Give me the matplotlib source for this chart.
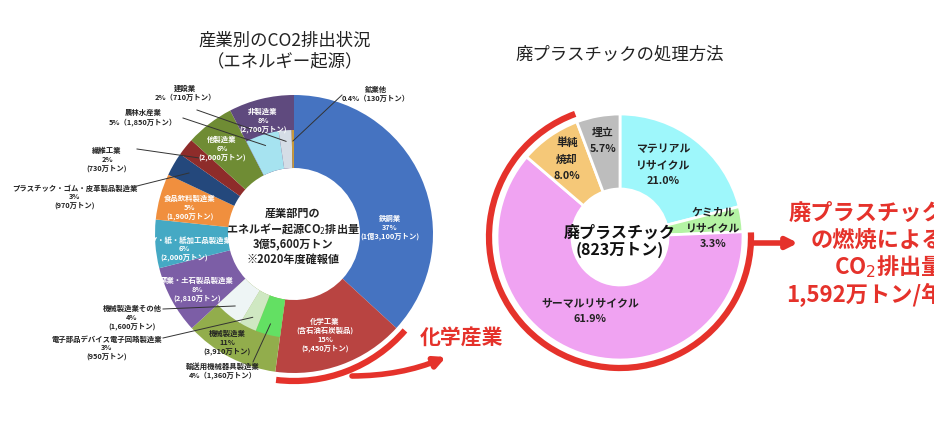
import numpy as np
import matplotlib
matplotlib.use("Agg")
import matplotlib.pyplot as plt
from matplotlib.patches import Arc, FancyArrowPatch

plt.rcParams['font.family'] = ['Noto Sans CJK JP', 'DejaVu Sans']

# ---------------- data ----------------
# Left donut: CO2 emissions by industry (万トン), clockwise from top
ind_names = ["鉄鋼業", "化学工業", "機械製造業", "窯業・土石製品製造業", "パルプ・紙・紙加工品製造業",
             "食品飲料製造業", "プラスチック・ゴム・皮革製品製造業", "繊維工業", "他製造業", "非製造業"]
ind_values = [13100, 5450, 3910, 2810, 2000, 1900, 970, 730, 2000, 2700]
ind_pct = ["37%", "15%", "11%", "8%", "6%", "5%", "3%", "2%", "6%", "8%"]
ind_amount = ["1億3,100万トン", "5,450万トン", "3,910万トン", "2,810万トン", "2,000万トン",
              "1,900万トン", "970万トン", "730万トン", "2,000万トン", "2,700万トン"]
ind_colors = ["#4573c1", "#b94441", "#92ad4c", "#7c5ea6", "#45a9c4", "#f08f3e",
              "#24487c", "#8e2c2a", "#6f8c34", "#5f4a7e"]

# sub-breakdown of 機械製造業 and 非製造業 (inner ring)
sub_names = ["輸送用機械器具製造業", "電子部品デバイス電子回路製造業", "機械製造業その他",
             "農林水産業", "建設業", "鉱業他"]
sub_values = [1360, 950, 1600, 1850, 710, 130]
sub_pct = ["4%", "3%", "4%", "5%", "2%", "0.4%"]
sub_amount = ["1,360万トン", "950万トン", "1,600万トン", "1,850万トン", "710万トン", "130万トン"]
sub_colors = ["#63e063", "#cfe8c2", "#eef5f5", "#a6e3f0", "#d5dde6", "#c89a3c"]
sub_parent = [2, 2, 2, 9, 9, 9]

# Right donut: waste plastic treatment (%)
pl_names = ["マテリアル\nリサイクル", "ケミカル\nリサイクル", "サーマルリサイクル", "単純\n焼却", "埋立"]
pl_values = [21.0, 3.3, 61.9, 8.0, 5.7]
pl_colors = ["#9ef7fb", "#b4f3a4", "#f0a3f2", "#f5c878", "#bdbdbd"]

W, H = 934, 424
RED = "#e5322b"


def P(x, y):
    return (x, H - y)


fig = plt.figure(figsize=(9.34, 4.24), dpi=100)
ax = fig.add_axes([0, 0, 1, 1])

# ---------------- left donut ----------------
LC = P(294, 234)
R_OUT, R_IN, R_SPLIT = 139, 66, 104

wedges, _ = ax.pie(ind_values, colors=ind_colors, startangle=90, counterclock=False,
                   center=LC, radius=R_OUT, frame=True,
                   wedgeprops=dict(width=R_OUT - R_IN, edgecolor="none", linewidth=0))

# inner ring: parents without breakdown are transparent
inner_vals, inner_cols = [], []
for i, v in enumerate(ind_values):
    subs = [j for j, p in enumerate(sub_parent) if p == i]
    if subs:
        for j in subs:
            inner_vals.append(sub_values[j])
            inner_cols.append(sub_colors[j])
    else:
        inner_vals.append(v)
        inner_cols.append("none")
ax.pie(inner_vals, colors=inner_cols, startangle=90, counterclock=False,
       center=LC, radius=R_SPLIT, frame=True,
       wedgeprops=dict(width=R_SPLIT - R_IN, edgecolor="none", linewidth=0))


def mid_angles(vals):
    tot = float(sum(vals))
    c = np.cumsum([0] + list(vals))
    return [90 - 360 * (c[k] + c[k + 1]) / 2 / tot for k in range(len(vals))]


inner_mid = mid_angles(inner_vals)
sub_idx = []
k = 0
for i, v in enumerate(ind_values):
    subs = [j for j, p in enumerate(sub_parent) if p == i]
    if subs:
        for j in subs:
            sub_idx.append((j, k))
            k += 1
    else:
        k += 1
sub_angle = {j: inner_mid[kk] for j, kk in sub_idx}

# inner labels of main segments
small = 5.3
in_pos = {0: (390, 215), 1: (325, 318), 2: (227, 330), 3: (197, 277), 4: (184, 236),
          5: (190, 195), 8: (222, 136), 9: (263, 108)}
for i, (x, y) in in_pos.items():
    name = ind_names[i]
    if i == 1:
        name = "化学工業\n(含石油石炭製品)"
    col = "#222222" if i == 2 else "white"
    t = ax.text(*P(x, y), f"{name}\n{ind_pct[i]}\n({ind_amount[i]})", ha="center", va="top",
                fontsize=small, color=col, fontweight="bold", linespacing=1.25)
    if i == 4:
        t.set_clip_path(wedges[i])

# outer labels with leader lines
lab_pos = {
    7: ((107, 147), (137, 149)),
    6: ((75, 184), (137, 186)),
}
for i, ((tx, ty), (lx, ly)) in lab_pos.items():
    ax.text(*P(tx, ty), f"{ind_names[i]}\n{ind_pct[i]}\n({ind_amount[i]})", ha="center", va="top",
            fontsize=small, color="#222222", fontweight="bold", linespacing=1.25)
    a = np.deg2rad(mid_angles(ind_values)[i])
    r = (R_OUT + R_SPLIT) / 2
    ax.plot([lx, LC[0] + r * np.cos(a)], [H - ly, LC[1] + r * np.sin(a)],
            color="#333333", lw=0.7)

sub_lab = {
    0: ((223, 362), (253, 362), False),
    1: ((107, 335), (163, 338), True),
    2: ((132, 305), (163, 309), True),
    3: ((143, 109), (183, 118), False),
    4: ((185, 85), (197, 110), False),
    5: ((376, 86), (342, 95), False),
}
for j, ((tx, ty), (lx, ly), three) in sub_lab.items():
    if three:
        txt = f"{sub_names[j]}\n{sub_pct[j]}\n({sub_amount[j]})"
    else:
        txt = f"{sub_names[j]}\n{sub_pct[j]}（{sub_amount[j]}）"
    ax.text(*P(tx, ty), txt, ha="center", va="top", fontsize=small, color="#222222",
            fontweight="bold", linespacing=1.25)
    a = np.deg2rad(sub_angle[j])
    r = (R_SPLIT + R_IN) / 2 + 8
    ax.plot([lx, LC[0] + r * np.cos(a)], [H - ly, LC[1] + r * np.sin(a)],
            color="#333333", lw=0.7)

ax.text(*P(293, 236), "産業部門の\nエネルギー起源CO$_2$排出量\n3億5,600万トン\n※2020年度確報値",
        ha="center", va="center", fontsize=8, fontweight="bold", color="#222222", linespacing=1.15)

ax.text(*P(285, 41), "産業別のCO2排出状況", ha="center", va="center", fontsize=12.5, color="#222222")
ax.text(*P(285, 61), "（エネルギー起源）", ha="center", va="center", fontsize=12.5, color="#222222")

# red arc + arrow (chemical industry)
ax.add_patch(Arc(LC, 2 * 147, 2 * 147, theta1=-97, theta2=-41, color=RED, lw=4.5))
ax.add_patch(FancyArrowPatch(P(352, 376), P(446, 357), arrowstyle="-|>", mutation_scale=16,
                             color=RED, lw=4, connectionstyle="arc3,rad=0.1", shrinkA=0, shrinkB=0))
ax.text(*P(462, 338), "化学産業", ha="center", va="center", fontsize=15, color=RED, fontweight="bold")

# ---------------- right donut ----------------
RC = P(620, 237)
RR_OUT, RR_IN = 123, 48
ax.pie(pl_values, colors=pl_colors, startangle=90, counterclock=False,
       center=RC, radius=RR_OUT, frame=True,
       wedgeprops=dict(width=RR_OUT - RR_IN, edgecolor="white", linewidth=2))

pl_pos = [(663, 165), (713, 228), (590, 311), (567, 159), (603, 141)]
for name, v, (x, y) in zip(pl_names, pl_values, pl_pos):
    ax.text(*P(x, y), f"{name}\n{v:.1f}%", ha="center", va="center", fontsize=7.8,
            color="#222222", fontweight="bold", linespacing=1.75)

ax.text(*P(620, 241), "廃プラスチック\n(823万トン)", ha="center", va="center", fontsize=11.5,
        fontweight="bold", color="#111111", linespacing=1.1)
ax.text(*P(620, 55), "廃プラスチックの処理方法", ha="center", va="center", fontsize=12.5, color="#222222")

ax.add_patch(Arc(RC, 2 * 131, 2 * 131, theta1=110, theta2=362, color=RED, lw=4.5))
ax.add_patch(FancyArrowPatch(P(752, 243), P(798, 243), arrowstyle="-|>", mutation_scale=16,
                             color=RED, lw=4, shrinkA=0, shrinkB=0))
for txt, y in zip(["廃プラスチック", "の燃焼による", "CO$_2$排出量", "1,592万トン/年"],
                  [213, 240, 267, 295]):
    ax.text(*P(944, y), txt, ha="right", va="center", fontsize=16, color=RED, fontweight="bold")

ax.set_xlim(0, W)
ax.set_ylim(0, H)
ax.set_aspect("equal")
ax.axis("off")

fig.savefig("out.png", dpi=100, facecolor="white")
